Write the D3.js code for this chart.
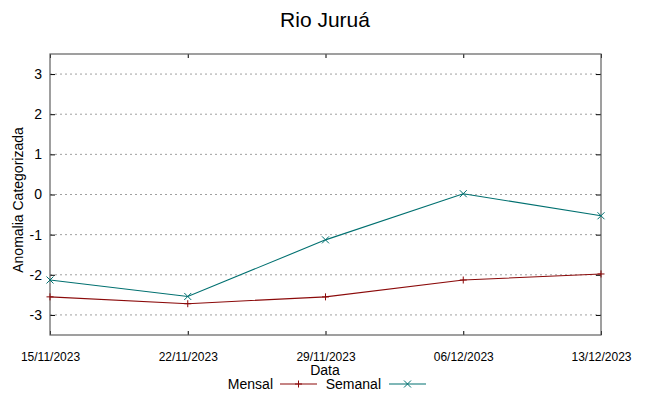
<!DOCTYPE html>
<html>
<head>
<meta charset="utf-8">
<script src="https://cdn.jsdelivr.net/npm/d3@7"></script>
<style>
  body { margin: 0; background: #fff; }
  text { font-family: "Liberation Sans", Arial, sans-serif; fill: #000; }
</style>
</head>
<body>
<svg id="chart" width="649" height="396"></svg>
<script>
const dates = ["15/11/2023", "22/11/2023", "29/11/2023", "06/12/2023", "13/12/2023"];
const mensal = [-2.55, -2.72, -2.55, -2.13, -1.98];
const semanal = [-2.13, -2.54, -1.13, 0.02, -0.53];
const yTicks = [-3, -2, -1, 0, 1, 2, 3];
const seriesNames = ["Mensal", "Semanal"];
const seriesColors = ["#8b0a0a", "#007070"];

const svg = d3.select("#chart");
const W = 649, H = 396;
const m = { left: 50, right: 48, top: 54, bottom: 61 };
const parse = d3.timeParse("%d/%m/%Y");
const xDates = dates.map(parse);

const x = d3.scaleTime().domain(d3.extent(xDates)).range([m.left, W - m.right]);
const y = d3.scaleLinear().domain([-3.5, 3.5]).range([H - m.bottom, m.top]);

// grid
svg.append("g").selectAll("line").data(yTicks).join("line")
  .attr("x1", m.left).attr("x2", W - m.right)
  .attr("y1", d => y(d)).attr("y2", d => y(d))
  .attr("stroke", "#a0a0a0").attr("stroke-width", 1)
  .attr("stroke-dasharray", "2,3");

// axes
const fmt = d3.timeFormat("%d/%m/%Y");
const xAxisB = d3.axisBottom(x).tickValues(xDates).tickFormat(fmt).tickSize(-4).tickPadding(17);
const gxb = svg.append("g").attr("transform", `translate(0,${H - m.bottom})`).call(xAxisB);
const xAxisT = d3.axisTop(x).tickValues(xDates).tickFormat("").tickSize(-4);
const gxt = svg.append("g").attr("transform", `translate(0,${m.top})`).call(xAxisT);
const yAxisL = d3.axisLeft(y).tickValues(yTicks).tickFormat(d => String(d)).tickSize(-5).tickPadding(8);
const gyl = svg.append("g").attr("transform", `translate(${m.left},0)`).call(yAxisL);
const yAxisR = d3.axisRight(y).tickValues(yTicks).tickFormat("").tickSize(-5);
const gyr = svg.append("g").attr("transform", `translate(${W - m.right},0)`).call(yAxisR);

[gxb, gxt, gyl, gyr].forEach(g => {
  g.select(".domain").remove();
  g.selectAll(".tick line").attr("stroke", "#000");
});
gxb.selectAll(".tick text").attr("font-size", 12).attr("font-family", "Liberation Sans, Arial, sans-serif").attr("fill", "#000");
gyl.selectAll(".tick text").attr("font-size", 14).attr("font-family", "Liberation Sans, Arial, sans-serif").attr("fill", "#000");

// border
svg.append("rect")
  .attr("x", m.left).attr("y", m.top)
  .attr("width", W - m.left - m.right).attr("height", H - m.top - m.bottom)
  .attr("fill", "none").attr("stroke", "#606060").attr("stroke-width", 1.2);

// lines
const line = d3.line().x((d, i) => x(xDates[i])).y(d => y(d));
function marker(g, type, cx, cy, color) {
  const s = 3.5;
  if (type === 0) {
    g.append("path").attr("d", `M${cx - s},${cy}H${cx + s}M${cx},${cy - s}V${cy + s}`)
      .attr("stroke", color).attr("stroke-width", 1).attr("fill", "none");
  } else {
    g.append("path").attr("d", `M${cx - s},${cy - s}L${cx + s},${cy + s}M${cx - s},${cy + s}L${cx + s},${cy - s}`)
      .attr("stroke", color).attr("stroke-width", 1).attr("fill", "none");
  }
}
[mensal, semanal].forEach((vals, k) => {
  svg.append("path").datum(vals).attr("d", line)
    .attr("fill", "none").attr("stroke", seriesColors[k]).attr("stroke-width", 1.1);
  const g = svg.append("g");
  vals.forEach((v, i) => marker(g, k, x(xDates[i]), y(v), seriesColors[k]));
});

// title & labels
svg.append("text").attr("x", 325).attr("y", 27).attr("text-anchor", "middle")
  .attr("font-size", 21).text("Rio Juruá");
svg.append("text").attr("x", 325).attr("y", 375).attr("text-anchor", "middle")
  .attr("font-size", 14).text("Data");
svg.append("text").attr("transform", "translate(23,200) rotate(-90)").attr("text-anchor", "middle")
  .attr("font-size", 14).text("Anomalia Categorizada");

// legend
const legY = 384;
const legend = [
  { textEnd: 273, lx1: 280, lx2: 317 },
  { textEnd: 381, lx1: 389, lx2: 426 }
];
legend.forEach((l, k) => {
  svg.append("text").attr("x", l.textEnd).attr("y", legY + 5).attr("text-anchor", "end")
    .attr("font-size", 14).text(seriesNames[k]);
  svg.append("line").attr("x1", l.lx1).attr("x2", l.lx2).attr("y1", legY).attr("y2", legY)
    .attr("stroke", seriesColors[k]).attr("stroke-width", 1.1);
  marker(svg, k, (l.lx1 + l.lx2) / 2, legY, seriesColors[k]);
});
</script>
</body>
</html>
